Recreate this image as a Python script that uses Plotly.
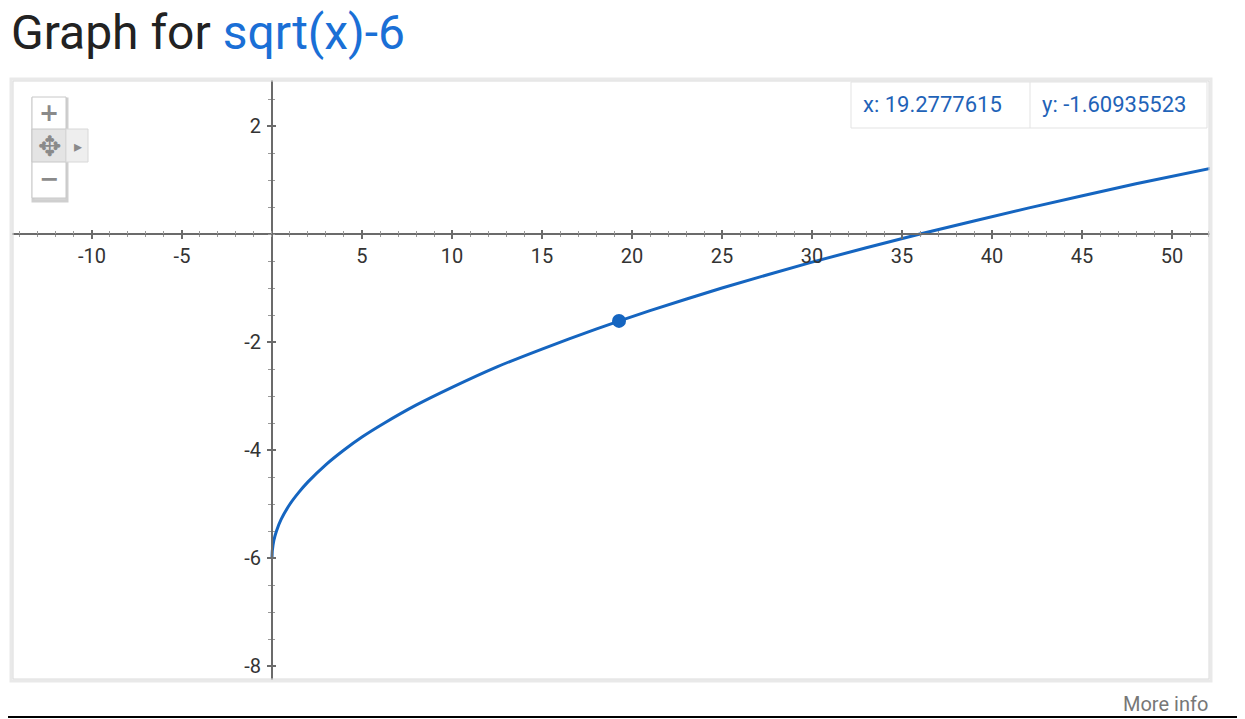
import plotly.graph_objects as go

# ---- data ----
curve_x = [0, 0.02, 0.1, 0.25, 0.5, 1, 1.5, 2, 3, 4, 5, 6.25, 8, 10, 12.5, 15, 18, 21, 25, 30, 36, 42, 48, 52.2]
curve_y = [-6, -5.86, -5.68, -5.5, -5.29, -5, -4.78, -4.59, -4.27, -4, -3.76, -3.5, -3.17, -2.84, -2.46,
           -2.13, -1.76, -1.42, -1, -0.52, 0, 0.48, 0.93, 1.22]
hover_x = 19.2777615
hover_y = -1.60935523
x_tick_vals = [-10, -5, 5, 10, 15, 20, 25, 30, 35, 40, 45, 50]
y_tick_vals = [-8, -6, -4, -2, 2]
x_tick_text = [str(v) for v in x_tick_vals]
y_tick_text = [str(v) for v in y_tick_vals]
x_range = [-14.444, 52.111]
y_range = [-8.259, 2.852]

OFF = 8  # page body margin in the browser
W, H = 1245 - OFF, 719 - OFF
# plot area in screen pixels
SL, SR, ST, SB = 12, 1210, 80, 680
L, R, T, B = SL - OFF, SR - OFF, ST - OFF, SB - OFF
PW, PH = R - L, B - T


def px(xs):
    return (xs - SL) / PW


def py(ys):
    return (SB - ys) / PH


BLUE = "#1565c0"
AX = "#6b6b6b"
TXT = "#333333"
FONT = "Roboto"

xpos = (0 - y_range[0]) / (y_range[1] - y_range[0])
ypos = (0 - x_range[0]) / (x_range[1] - x_range[0])

fig = go.Figure()
fig.add_trace(go.Scatter(x=curve_x, y=curve_y, mode="lines",
                         line=dict(color=BLUE, width=3, shape="spline", smoothing=0.6),
                         hoverinfo="skip", showlegend=False))
fig.add_trace(go.Scatter(x=[hover_x], y=[hover_y], mode="markers", xaxis="x2", yaxis="y2",
                         marker=dict(color=BLUE, size=14), hoverinfo="skip", showlegend=False))

common_x = dict(range=x_range, anchor="free", position=xpos, showgrid=False, zeroline=False,
                fixedrange=True)
common_y = dict(range=y_range, anchor="free", position=ypos, showgrid=False, zeroline=False,
                fixedrange=True)

fig.update_layout(
    width=W, height=H,
    margin=dict(l=L, r=W - R, t=T, b=H - B),
    paper_bgcolor="white", plot_bgcolor="white",
    font=dict(family=FONT, color=TXT),
    title=dict(text="Graph for <span style='color:#1a6fd6'>sqrt(x)-6</span>",
               xref="container", yref="container", x=(11 - OFF) / W, xanchor="left",
               y=1 - (32 - OFF) / H, yanchor="middle",
               font=dict(family=FONT, size=48, color="#222222")),
    xaxis=dict(**common_x, tickmode="array", tickvals=x_tick_vals, ticktext=x_tick_text,
               ticks="outside", ticklen=4,
               tickwidth=2, tickcolor=AX, showline=True, linecolor=AX, linewidth=2,
               tickfont=dict(family=FONT, size=20, color=TXT), ticklabelstandoff=0,
               minor=dict(dtick=1, tick0=0, ticks="outside", ticklen=2, tickwidth=1, tickcolor="#999")),
    xaxis2=dict(**common_x, overlaying="x", tickmode="array", tickvals=x_tick_vals, ticks="inside",
                ticklen=4, tickwidth=2, tickcolor=AX, showline=False, showticklabels=False,
                minor=dict(dtick=1, tick0=0, ticks="inside", ticklen=3, tickwidth=1, tickcolor="#999")),
    yaxis=dict(**common_y, tickmode="array", tickvals=y_tick_vals, ticktext=y_tick_text,
               ticks="outside", ticklen=4,
               tickwidth=2, tickcolor=AX, showline=True, linecolor=AX, linewidth=2,
               tickfont=dict(family=FONT, size=20, color=TXT), ticklabelstandoff=2,
               minor=dict(dtick=0.5, tick0=0, ticks="outside", ticklen=3, tickwidth=1, tickcolor="#999")),
    yaxis2=dict(**common_y, overlaying="y", tickmode="array", tickvals=y_tick_vals, ticks="inside",
                ticklen=3, tickwidth=2, tickcolor=AX, showline=False, showticklabels=False,
                minor=dict(dtick=0.5, tick0=0, ticks="inside", ticklen=2, tickwidth=1, tickcolor="#999")),
)

shapes = []
# plot frame (soft shadow look)
shapes.append(dict(type="rect", xref="paper", yref="paper", x0=px(SL - 1), x1=px(SR + 1), y0=py(SB + 1), y1=py(ST - 1),
                   line=dict(color="#e9e9e9", width=3), layer="above"))
shapes.append(dict(type="rect", xref="paper", yref="paper", x0=px(SL + 1), x1=px(SR - 1), y0=py(SB - 1), y1=py(ST + 1),
                   line=dict(color="#dadada", width=1), layer="above"))
# tooltip box
shapes.append(dict(type="rect", xref="paper", yref="paper", x0=px(851), x1=px(1207), y0=py(128), y1=py(82),
                   line=dict(color="#e3e3e3", width=1), fillcolor="white", layer="above"))
shapes.append(dict(type="line", xref="paper", yref="paper", x0=px(1030), x1=px(1030), y0=py(128), y1=py(82),
                   line=dict(color="#e3e3e3", width=1), layer="above"))
# zoom control
shapes.append(dict(type="rect", xref="paper", yref="paper", x0=px(33), x1=px(67), y0=py(201), y1=py(99),
                   line=dict(color="#cfcfcf", width=3), fillcolor="#d8d8d8", layer="above"))
shapes.append(dict(type="rect", xref="paper", yref="paper", x0=px(32), x1=px(66), y0=py(198), y1=py(97),
                   line=dict(color="#c8c8c8", width=1), fillcolor="white", layer="above"))
shapes.append(dict(type="rect", xref="paper", yref="paper", x0=px(32), x1=px(66), y0=py(162), y1=py(129),
                   line=dict(color="#c8c8c8", width=1), fillcolor="#e4e4e4", layer="above"))
shapes.append(dict(type="rect", xref="paper", yref="paper", x0=px(66), x1=px(88), y0=py(162), y1=py(129),
                   line=dict(color="#d8d8d8", width=1), fillcolor="#eeeeee", layer="above"))
# bottom black rule
shapes.append(dict(type="line", xref="paper", yref="paper", x0=px(0), x1=px(1245), y0=py(717), y1=py(717),
                   line=dict(color="black", width=2)))
fig.update_layout(shapes=shapes)

ann = []
ann.append(dict(text=f"x: {hover_x}", xref="paper", yref="paper", x=px(861), y=py(104),
                xanchor="left", yanchor="middle", showarrow=False,
                font=dict(family=FONT, size=22, color="#1f63b8")))
ann.append(dict(text=f"y: {hover_y}", xref="paper", yref="paper", x=px(1040), y=py(104),
                xanchor="left", yanchor="middle", showarrow=False,
                font=dict(family=FONT, size=22, color="#1f63b8")))
ann.append(dict(text="<b>+</b>", xref="paper", yref="paper", x=px(49), y=py(113),
                xanchor="center", yanchor="middle", showarrow=False,
                font=dict(family="DejaVu Sans", size=24, color="#8a8a8a")))
ann.append(dict(text="✥", xref="paper", yref="paper", x=px(49), y=py(146),
                xanchor="center", yanchor="middle", showarrow=False,
                font=dict(family="DejaVu Sans", size=28, color="#8a8a8a")))
ann.append(dict(text="<b>−</b>", xref="paper", yref="paper", x=px(49), y=py(179),
                xanchor="center", yanchor="middle", showarrow=False,
                font=dict(family="DejaVu Sans", size=24, color="#8a8a8a")))
ann.append(dict(text="▸", xref="paper", yref="paper", x=px(78), y=py(146),
                xanchor="center", yanchor="middle", showarrow=False,
                font=dict(family="DejaVu Sans", size=16, color="#8a8a8a")))
ann.append(dict(text="More info", xref="paper", yref="paper", x=px(1210), y=py(704),
                xanchor="right", yanchor="middle", showarrow=False,
                font=dict(family=FONT, size=20, color="#777777")))
fig.update_layout(annotations=ann)

fig.write_html("out.html")
